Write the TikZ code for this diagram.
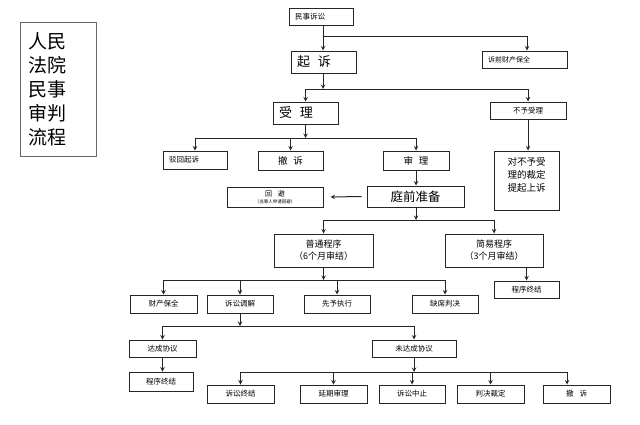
\documentclass[tikz,border=0pt]{standalone}
\usepackage{fontspec}
\setmainfont{Noto Sans CJK SC}
\usetikzlibrary{arrows}

\tikzset{
	box/.style={draw=black!85, line width=1pt, minimum width=66pt, minimum height=18pt, inner sep=0pt, font=\fontsize{7.5}{8}\selectfont},
	lbox/.style={box, inner xsep=6pt, align=left},
	link/.style={draw=black!85, line width=1pt},
	arr/.style={link, -stealth}
}

\begin{document}
\begin{tikzpicture}[x=1pt, y=-1pt]
		\useasboundingbox (0,0) rectangle (640,424);

		% title
		\node [draw=black!60, line width=0.8pt, minimum width=76pt, minimum height=134pt, inner xsep=8pt, text width=60pt, align=left, font=\fontsize{19}{24}\selectfont] (title) at (58,89) {人民\\法院\\民事\\审判\\流程};

		% top part
		\begin{scope}
			\node [lbox, minimum width=64pt, minimum height=17pt, text width=52pt] (msss) at (321,16.5) {民事诉讼};
			\node [lbox, minimum width=65pt, minimum height=22pt, text width=53pt, font=\fontsize{13}{15}\selectfont] (qisu) at (323.5,62) {起\hspace{0.6em}诉};
			\node [lbox, minimum width=85pt, minimum height=17pt, text width=73pt, font=\fontsize{7}{8}\selectfont] (sqbq) at (524.5,59.5) {诉前财产保全};
			\node [lbox, minimum width=65pt, minimum height=22pt, text width=53pt, font=\fontsize{13}{15}\selectfont] (shouli) at (305.5,113) {受\hspace{0.6em}理};
			\node [box, minimum width=76pt, minimum height=17pt] (bysl) at (528,110.5) {不予受理};
		\end{scope}

		% after acceptance
		\begin{scope}
			\node [lbox, minimum width=64pt, text width=52pt] (bhqs) at (195,160) {驳回起诉};
			\node [box, minimum width=65pt, minimum height=19pt, font=\fontsize{9.5}{11}\selectfont] (chesu1) at (290.5,160.5) {撤\hspace{0.6em}诉};
			\node [box, minimum height=19pt, font=\fontsize{9.5}{11}\selectfont] (shenli) at (416,160.5) {审\hspace{0.6em}理};
			\node [box, minimum width=65pt, minimum height=59pt, text depth=12pt, align=center, font=\fontsize{9.5}{13}\selectfont] (shangsu) at (526.5,180.5) {对不予受\\理的裁定\\提起上诉};
			\node [box, minimum width=97pt, minimum height=21pt, font=\fontsize{12.5}{14}\selectfont] (tqzb) at (415.5,196.5) {庭前准备};
			\node [box, minimum width=96pt, minimum height=20pt, align=center, font=\fontsize{7}{8}\selectfont] (huibi) at (275,197) {回\hspace{0.8em}避\\[-1pt]{\fontsize{4.5}{5}\selectfont （当事人申请回避）}};
			\node [box, minimum width=99pt, minimum height=33pt, align=center, font=\fontsize{9}{12}\selectfont] (ptcx) at (323.5,250.5) {普通程序\\（6个月审结）};
			\node [box, minimum width=98pt, minimum height=33pt, align=center, font=\fontsize{9}{12}\selectfont] (jycx) at (494,250.5) {简易程序\\（3个月审结）};
			\node [box, minimum width=65pt, minimum height=17pt] (cxzj1) at (526.5,289.5) {程序终结};
		\end{scope}

		% ordinary procedure
		\begin{scope}
			\node [box, minimum width=67pt] (ccbq) at (163.5,304) {财产保全};
			\node [box] (ssjt) at (240,304) {诉讼调解};
			\node [box] (xyzx) at (337,304) {先予执行};
			\node [box] (qxpj) at (445,304) {缺席判决};
			\node [box, minimum width=67pt, minimum height=17pt] (dcxy) at (162.5,348.5) {达成协议};
			\node [box, minimum width=64pt, minimum height=19pt] (cxzj2) at (161,381.5) {程序终结};
			\node [box, minimum width=84pt, minimum height=17pt] (wdcxy) at (414,348.5) {未达成协议};
			\node [box, minimum width=67pt] (sszj) at (240.5,394) {诉讼终结};
			\node [box, minimum width=67pt] (yqsl) at (333.5,394) {延期审理};
			\node [box] (sszz) at (412,394) {诉讼中止};
			\node [box, minimum width=67pt] (pjcd) at (490.5,394) {判决裁定};
			\node [box, minimum width=67pt] (chesu2) at (576.5,394) {撤\hspace{0.8em}诉};
		\end{scope}

		% connectors
		\coordinate (j1) at (323,36);
		\coordinate (j2) at (323,89);
		\coordinate (j3) at (305.5,138);
		\coordinate (j4) at (416,220);
		\coordinate (j5) at (323.5,280);
		\coordinate (j6) at (240,326);
		\coordinate (j7) at (414,372);

		\draw [link] (msss.south -| j1) -- (j1);
		\draw [arr] (j1) -- (qisu.north -| j1);
		\draw [arr] (j1) -| ([xshift=2.5pt]sqbq.north);

		\draw [arr] (qisu.south -| j2) -- (j2);
		\draw [arr] (j2) -| (shouli.north);
		\draw [arr] (j2) -| (bysl.north);

		\draw [arr] (shouli.south) -- (j3);
		\foreach \n in {bhqs, chesu1, shenli}
			\draw [arr] (j3) -| (\n.north);
		\draw [arr] (shenli.south) -- (shenli.south |- tqzb.north);
		\draw [arr, shorten <=5pt, shorten >=7pt] (tqzb.west) -- (huibi.east);
		\draw [arr] (bysl.south) -- (bysl.south |- shangsu.north);

		\draw [arr] (tqzb.south -| j4) -- (j4);
		\draw [arr] (j4) -| (ptcx.north);
		\draw [arr] (j4) -| (jycx.north);
		\draw [arr] (jycx.south -| cxzj1) -- (cxzj1.north);

		\draw [arr] (ptcx.south) -- (j5);
		\foreach \n in {ccbq, ssjt, xyzx, qxpj}
			\draw [arr] (j5) -| (\n.north);

		\draw [arr] (ssjt.south) -- (j6);
		\draw [arr] (j6) -| (dcxy.north);
		\draw [arr] (j6) -| (wdcxy.north);
		\draw [arr] (dcxy.south) -- (dcxy.south |- cxzj2.north);

		\draw [arr] (wdcxy.south) -- (j7);
		\foreach \n in {sszj, yqsl, sszz, pjcd}
			\draw [arr] (j7) -| (\n.north);
		\draw [arr] (j7) -| ([xshift=-9.5pt]chesu2.north);
	\end{tikzpicture}
\end{document}
